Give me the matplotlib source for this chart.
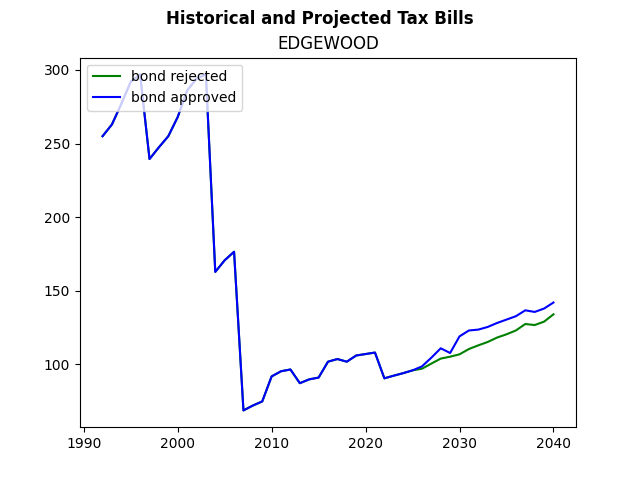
import matplotlib
matplotlib.use("Agg")
import matplotlib.pyplot as plt
import numpy as np

years = np.arange(1992, 2041)

# historical bills up to 2025, shared by both scenarios
hist = [255, 263, 277, 292, 297, 239.5, 247.5, 255, 268, 286,
        294, 297, 162.8, 170.7, 176.5, 68.7, 72, 74.8, 91.8, 95.3,
        96.5, 87.2, 89.8, 91, 101.8, 103.6, 101.8, 106, 107, 108,
        90.5, 92.3, 94, 95.9]

# projections 2026-2040
rejected_proj = [97, 100.5, 103.9, 105.2, 106.8, 110.4, 112.9, 115.2,
                 118.2, 120.4, 123, 127.4, 126.7, 129, 134]
approved_proj = [98.6, 104.5, 110.9, 107.7, 119, 123, 123.6, 125.4,
                 128.1, 130.4, 132.7, 136.7, 135.6, 137.9, 142]

bond_rejected = hist + rejected_proj
bond_approved = hist + approved_proj

fig, ax = plt.subplots(figsize=(6.4, 4.8), dpi=100)
ax.plot(years, bond_rejected, color="green", label="bond rejected")
ax.plot(years, bond_approved, color="blue", label="bond approved")
ax.set_title("EDGEWOOD")
fig.suptitle("Historical and Projected Tax Bills", fontweight="bold")
ax.legend(loc="upper left")
fig.savefig("out.png")
